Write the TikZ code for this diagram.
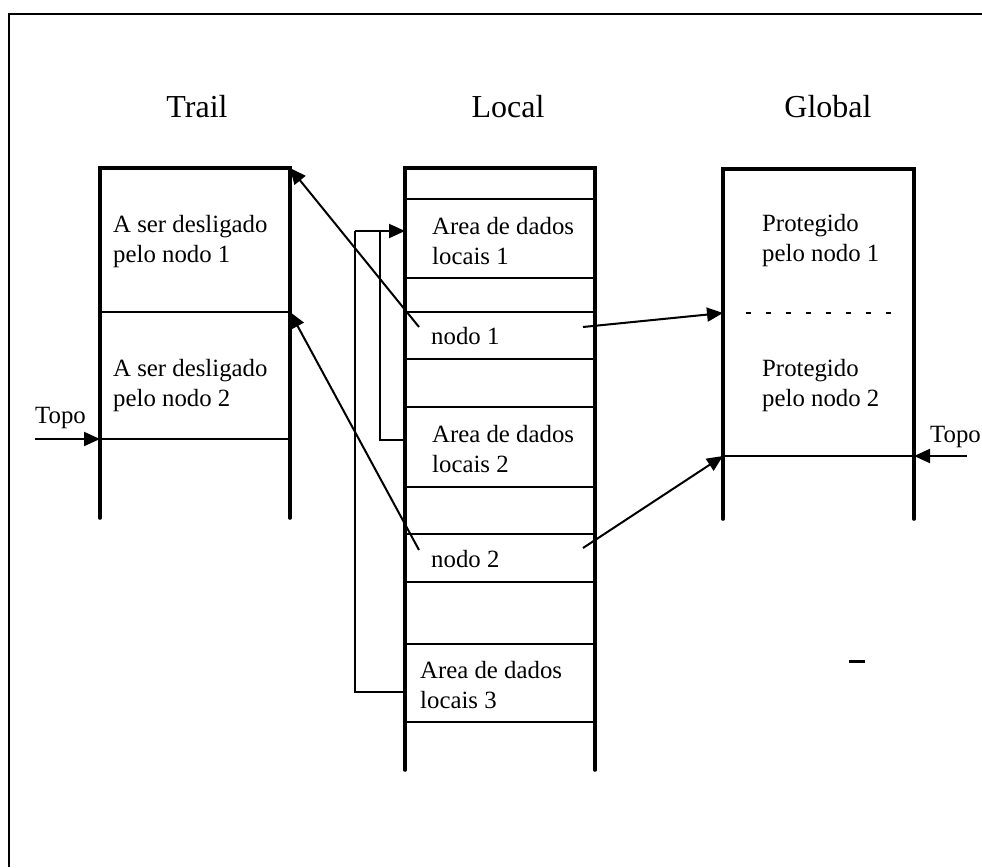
\documentclass[tikz,border=0pt]{standalone}
\usepackage{fontspec}
\setmainfont{Liberation Serif}
\usetikzlibrary{arrows.meta}

\begin{document}
\begin{tikzpicture}[x=1pt, y=-1pt,
    wall/.style={line width=3.6pt, line cap=round, line join=miter},
    slot/.style={line width=1.7pt},
    link/.style={line width=2pt, -{Triangle[length=16pt, width=14pt]}},
    title/.style={font=\fontsize{32}{38}\selectfont, inner sep=0pt, anchor=base},
    label/.style={font=\fontsize{24.8}{30}\selectfont, inner sep=0pt, anchor=west, align=left},
  ]
  \useasboundingbox (0,0) rectangle (982,867);

  % outer frame (top and left edges only)
  \draw[line width=2.6pt] (9,867) -- (9,14) -- (982,14);

  % column titles
  \node[title] (tTrail)  at (197,117) {Trail};
  \node[title] (tLocal)  at (508,117) {Local};
  \node[title] (tGlobal) at (828,117) {Global};

  % ---------- Trail stack ----------
  \draw[wall] (100,518) -- (100,168) -- (290,168) -- (290,518);
  \draw[slot] (100,312) -- (290,312);
  \draw[slot] (100,439) -- (290,439);
  \node[label] (tr1) at (113,242) {A ser desligado\\pelo nodo 1};
  \node[label] (tr2) at (113,386) {A ser desligado\\pelo nodo 2};
  \coordinate (trTop) at (290,168);
  \coordinate (trMid) at (290,312);
  \coordinate (trTopo) at (100,439);
  \coordinate (trTopoFrom) at (35,439);
  \node[label, anchor=base west] (topoL) at (35,423) {Topo};

  % ---------- Local stack ----------
  \draw[wall] (405,770) -- (405,168) -- (595,168) -- (595,770);
  \foreach \yy in {199,278,312,359,407,487,534,582,644,722}
    \draw[slot] (405,\yy) -- (595,\yy);
  \node[label] (loc1) at (432,241) {Area de dados\\locais 1};
  \node[label] (nodo1) at (431,336) {nodo 1};
  \node[label] (loc2) at (432,449) {Area de dados\\locais 2};
  \node[label] (nodo2) at (431,559) {nodo 2};
  \node[label] (loc3) at (420,685) {Area de dados\\locais 3};
  \coordinate (n1L) at (419,327);
  \coordinate (n1R) at (583,327);
  \coordinate (n2L) at (419,550);
  \coordinate (n2R) at (583,548);

  % frame links chaining the local data areas
  \coordinate (chainTip) at (405,231);
  \coordinate (chainCorner) at (355,231);
  \coordinate (loc2Join) at (405,440);
  \coordinate (loc3Join) at (405,692);
  \draw[slot] (loc2Join) -- (380,440) -- (380,231);
  \draw[slot] (loc3Join) -- (355,692) -- (chainCorner);
  \draw[link] (chainCorner) -- (chainTip);

  % ---------- Global stack ----------
  \draw[wall] (723,519) -- (723,169) -- (914,169) -- (914,519);
  \draw[line width=1.6pt, dash pattern=on 5pt off 15pt] (746,313) -- (905,313);
  \draw[slot] (723,456) -- (914,456);
  \node[label] (gl1) at (762,241) {Protegido\\pelo nodo 1};
  \node[label] (gl2) at (762,386) {Protegido\\pelo nodo 2};
  \coordinate (glMid) at (723,313);
  \coordinate (glTop) at (723,456);
  \coordinate (glTopo) at (914,456);
  \coordinate (glTopoFrom) at (967,456);
  \node[label, anchor=base west] (topoR) at (930,442) {Topo};

  % stray mark
  \draw[line width=3pt] (849,661) -- (865,661);

  % ---------- pointers ----------
  \draw[link] (n1L) -- (trTop);
  \draw[link] (n2L) -- (trMid);
  \draw[link] (n1R) -- (glMid);
  \draw[link] (n2R) -- (glTop);
  \draw[link] (trTopoFrom) -- (trTopo);
  \draw[link] (glTopoFrom) -- (glTopo);
\end{tikzpicture}
\end{document}
